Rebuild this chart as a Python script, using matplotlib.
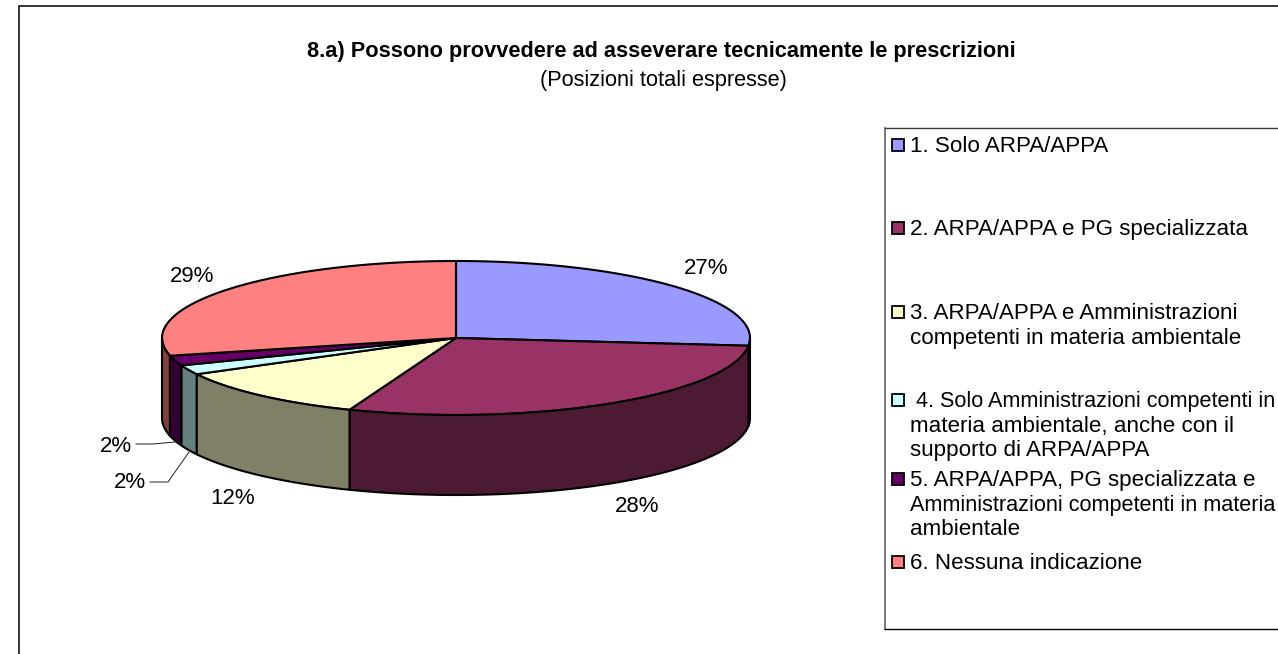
import numpy as np
import matplotlib
matplotlib.use("Agg")
import matplotlib.pyplot as plt

plt.rcParams["font.family"] = ["Liberation Sans", "DejaVu Sans"]

# slice sizes (percent of the circle)
values = [26.6, 29.3, 11.3, 2.0, 2.1, 28.7]
pct_labels = ["27%", "28%", "12%", "2%", "2%", "29%"]
legend_labels = [
    ["1. Solo ARPA/APPA"],
    ["2. ARPA/APPA e PG specializzata"],
    ["3. ARPA/APPA e Amministrazioni", "competenti in materia ambientale"],
    [" 4. Solo Amministrazioni competenti in", "materia ambientale, anche con il", "supporto di ARPA/APPA"],
    ["5. ARPA/APPA, PG specializzata e", "Amministrazioni competenti in materia", "ambientale"],
    ["6. Nessuna indicazione"],
]
top_colors = ["#9999FF", "#993366", "#FFFFCC", "#CCFFFF", "#660066", "#FF8080"]
side_colors = ["#4D4D80", "#4D1A33", "#808066", "#668080", "#330033", "#804040"]

title = "8.a) Possono provvedere ad asseverare tecnicamente le prescrizioni"
subtitle = "(Posizioni totali espresse)"

# pie geometry in pixels
CX, CY = 456, 338
RX, RY = 294, 77
DEPTH = 80
EDGE = 1.5


def arc(a0, a1, drop=0):
    t = np.radians(np.linspace(a0, a1, 200))
    return CX + RX * np.sin(t), CY - RY * np.cos(t) + drop


fig = plt.figure(figsize=(12.78, 6.54), dpi=100)
ax = fig.add_axes([0, 0, 1, 1])
ax.set_xlim(0, 1278)
ax.set_ylim(654, 0)
ax.axis("off")

# chart frame, runs off the right and bottom of the picture
ax.plot([18.5, 18.5, 1278], [654, 5.5, 5.5], color="black", lw=1.1, solid_joinstyle="miter")

ax.text(661.5, 51.5, title, ha="center", va="center", fontsize=15.7, fontweight="bold")
ax.text(663.5, 80.5, subtitle, ha="center", va="center", fontsize=15.7)

# pie, clockwise from the top
edges = np.concatenate([[0], np.cumsum(values)]) / sum(values) * 360
for i in range(len(values)):
    a0, a1 = edges[i], edges[i + 1]
    x, y = arc(a0, a1)
    ax.fill(np.r_[CX, x], np.r_[CY, y], facecolor=top_colors[i], edgecolor="black",
            lw=EDGE, joinstyle="round")
    # side wall only where the rim faces the viewer
    s0, s1 = max(a0, 90), min(a1, 270)
    if s1 > s0:
        xt, yt = arc(s0, s1)
        xb, yb = arc(s0, s1, DEPTH)
        ax.fill(np.r_[xt, xb[::-1]], np.r_[yt, yb[::-1]], facecolor=side_colors[i],
                edgecolor="black", lw=EDGE, joinstyle="round")

# percent labels and leader lines
label_pos = [(706, 269), (637, 506), (233, 498), (116, 446), (130, 483), (192, 277)]
for (lx, ly), s in zip(label_pos, pct_labels):
    ax.text(lx, ly, s, ha="center", va="center", fontsize=16)
ax.plot([136, 153, 175], [444, 444, 442], color="#202020", lw=0.7)
ax.plot([150, 168, 189], [482, 482, 452], color="#202020", lw=0.7)

# legend box
ax.plot([884.5, 884.5], [127.5, 628.5], color="#707070", lw=1.3)
ax.plot([884.5, 1278], [127.5, 127.5], color="#404040", lw=1.0)
ax.plot([884.5, 1278], [628.5, 628.5], color="black", lw=1.0)
row_y = [145, 228, 312, 400, 479, 562]
LINE_H = 24.6
for i, lines in enumerate(legend_labels):
    ax.add_patch(plt.Rectangle((891.5, row_y[i] - 6), 12, 12, facecolor=top_colors[i],
                               edgecolor="black", lw=1.3))
    for j, line in enumerate(lines):
        # the two longest lines would run off the picture at full size
        size = 15.6 if len(line) > 35 else 16.1
        ax.text(910, row_y[i] + 1.5 + j * LINE_H, line, ha="left", va="center", fontsize=size)

fig.savefig("out.png", dpi=100, facecolor="white")
